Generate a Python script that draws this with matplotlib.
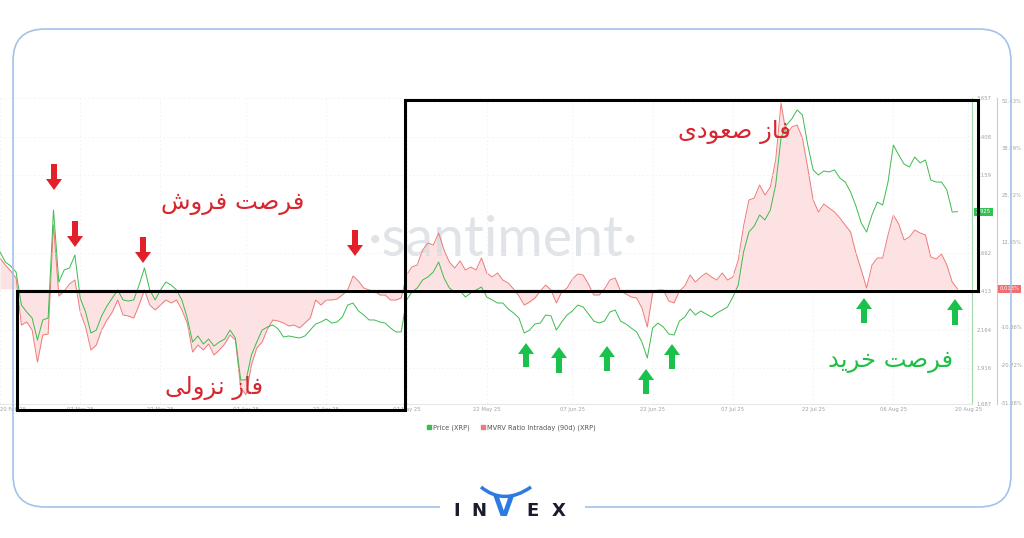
import matplotlib
matplotlib.use('Agg')
import matplotlib.pyplot as plt
import matplotlib.dates as mdates
import matplotlib.transforms as mtransforms
from matplotlib.patches import FancyBboxPatch, Rectangle, FancyArrow, PathPatch
from matplotlib.path import Path
from matplotlib.lines import Line2D
from matplotlib.ticker import FormatStrFormatter
import pandas as pd

# daily XRP price (USD), 20 Feb 2025 -> 18 Aug 2025
price = [2.666, 2.601, 2.575, 2.537, 2.324, 2.279, 2.241, 2.099, 2.228, 2.241,
         2.936, 2.472, 2.550, 2.563, 2.646, 2.369, 2.279, 2.144, 2.163, 2.254,
         2.318, 2.369, 2.421, 2.357, 2.350, 2.357, 2.453, 2.563, 2.421, 2.357,
         2.421, 2.472, 2.453, 2.421, 2.357, 2.241, 2.086, 2.125, 2.073, 2.105,
         2.060, 2.086, 2.105, 2.163, 2.112, 1.842, 1.842, 2.002, 2.086, 2.163,
         2.183, 2.196, 2.170, 2.118, 2.125, 2.118, 2.112, 2.125, 2.163, 2.202,
         2.215, 2.234, 2.208, 2.215, 2.247, 2.324, 2.337, 2.286, 2.260, 2.228,
         2.228, 2.215, 2.208, 2.176, 2.151, 2.151, 2.357, 2.408, 2.434, 2.485,
         2.505, 2.537, 2.601, 2.498, 2.434, 2.408, 2.415, 2.376, 2.402, 2.421,
         2.440, 2.376, 2.357, 2.337, 2.337, 2.299, 2.273, 2.241, 2.144, 2.163,
         2.202, 2.208, 2.260, 2.254, 2.163, 2.215, 2.260, 2.286, 2.324, 2.312,
         2.266, 2.221, 2.208, 2.221, 2.279, 2.292, 2.221, 2.202, 2.176, 2.151,
         2.086, 1.983, 2.176, 2.208, 2.183, 2.138, 2.131, 2.221, 2.247, 2.299,
         2.260, 2.286, 2.266, 2.247, 2.273, 2.292, 2.312, 2.376, 2.453, 2.666,
         2.794, 2.833, 2.904, 2.872, 2.936, 3.097, 3.400, 3.483, 3.522, 3.580,
         3.548, 3.354, 3.194, 3.161, 3.187, 3.181, 3.194, 3.142, 3.116, 3.052,
         2.962, 2.852, 2.794, 2.904, 2.987, 2.968, 3.116, 3.354, 3.290, 3.232,
         3.213, 3.277, 3.239, 3.258, 3.129, 3.116, 3.116, 3.065, 2.923, 2.925]

# MVRV ratio intraday (90d), percent
mvrv = [8.48, 6.56, 4.92, 3.01, -9.85, -9.03, -11.21, -19.97, -12.58, -12.31,
        17.50, -1.91, -0.55, 1.37, 2.46, -6.29, -10.39, -16.68, -15.32, -11.21,
        -8.48, -6.29, -3.01, -7.11, -7.38, -7.93, -4.38, -0.27, -4.38, -5.74,
        -4.38, -3.01, -3.83, -3.01, -5.74, -9.30, -17.23, -15.32, -16.68, -15.04,
        -18.05, -16.68, -15.04, -12.58, -13.95, -27.08, -28.99, -20.79, -16.14, -14.50,
        -10.94, -8.48, -8.75, -9.30, -10.12, -9.85, -10.67, -9.30, -7.93, -3.01,
        -4.38, -3.01, -3.01, -2.74, -1.64, -0.27, 3.56, 2.19, 0.27, -0.27,
        -0.55, -1.64, -1.64, -3.01, -3.01, -2.46, 3.83, 6.02, 6.56, 10.67,
        12.58, 12.03, 15.32, 10.67, 7.38, 5.74, 7.66, 5.20, 6.02, 5.20,
        8.48, 4.38, 3.28, 4.38, 2.46, 1.64, 0.00, -1.91, -4.38, -3.56,
        -2.46, -0.55, 1.09, -0.27, -3.83, -0.82, 0.27, 2.74, 4.10, 3.83,
        1.37, -1.64, -1.64, 0.00, 2.46, 3.01, -0.55, -1.37, -2.19, -2.46,
        -5.20, -10.39, -1.09, -0.27, -0.27, -3.28, -3.83, -0.55, 0.82, 3.83,
        1.91, 3.28, 4.38, 3.28, 2.46, 4.38, 2.46, 3.28, 7.93, 17.23,
        24.34, 24.89, 28.44, 25.71, 27.90, 35.28, 50.87, 42.12, 44.31, 44.85,
        41.30, 33.09, 24.34, 21.06, 23.25, 22.15, 21.06, 19.42, 17.50, 15.59,
        9.85, 5.20, 0.27, 6.56, 8.48, 8.48, 14.77, 20.24, 17.78, 13.40,
        14.22, 16.14, 15.32, 14.77, 8.75, 8.21, 9.57, 6.56, 1.91, 0.013]

days = pd.date_range('2025-02-20', periods=len(price), freq='D')

price_ticks = [3.657, 3.408, 3.159, 2.662, 2.413, 2.164, 1.916, 1.687]
mvrv_ticks = [51.43, 38.59, 25.72, 12.85, -10.36, -20.72, -31.08]
date_ticks = pd.to_datetime(['2025-02-20', '2025-03-07', '2025-03-22', '2025-04-07',
                             '2025-04-22', '2025-05-07', '2025-05-22', '2025-06-07',
                             '2025-06-22', '2025-07-07', '2025-07-22', '2025-08-06',
                             '2025-08-20'])

sell_text = 'فرصت فروش'
bear_text = 'فاز نزولی'
bull_text = 'فاز صعودی'
buy_text = 'فرصت خرید'

# minimal arabic-script shaping (isolated, final, initial, medial)
FORMS = {
    'ا': (0xFE8D, 0xFE8E, None, None),
    'ت': (0xFE95, 0xFE96, 0xFE97, 0xFE98),
    'خ': (0xFEA5, 0xFEA6, 0xFEA7, 0xFEA8),
    'د': (0xFEA9, 0xFEAA, None, None),
    'ر': (0xFEAD, 0xFEAE, None, None),
    'ز': (0xFEAF, 0xFEB0, None, None),
    'ش': (0xFEB5, 0xFEB6, 0xFEB7, 0xFEB8),
    'ص': (0xFEB9, 0xFEBA, 0xFEBB, 0xFEBC),
    'ع': (0xFEC9, 0xFECA, 0xFECB, 0xFECC),
    'ف': (0xFED1, 0xFED2, 0xFED3, 0xFED4),
    'ل': (0xFEDD, 0xFEDE, 0xFEDF, 0xFEE0),
    'ن': (0xFEE5, 0xFEE6, 0xFEE7, 0xFEE8),
    'و': (0xFEED, 0xFEEE, None, None),
    'ی': (0xFEEF, 0xFEF0, 0xFEF3, 0xFEF4),
}


def shape(s):
    out = []
    for k, c in enumerate(s):
        if c not in FORMS:
            out.append(c)
            continue
        f = FORMS[c]
        prev = s[k - 1] if k > 0 else ''
        nxt = s[k + 1] if k + 1 < len(s) else ''
        jp = prev in FORMS and FORMS[prev][2] is not None
        jn = nxt in FORMS and f[2] is not None
        idx = 3 if (jp and jn) else 1 if jp else 2 if jn else 0
        out.append(chr(f[idx]))
    return ''.join(reversed(out))


W, H = 1024, 538
fig = plt.figure(figsize=(W / 100, H / 100), dpi=100)
fig.patch.set_facecolor('white')
# pixel coords, origin top-left
px = mtransforms.Affine2D().scale(1 / W, -1 / H).translate(0, 1) + fig.transFigure

GREEN = '#3dbb4e'
RED = '#ee7b7b'

ax = fig.add_axes([0, (H - 404) / H, 972 / W, 306 / H])
ax2 = ax.twinx()
ax.set_zorder(ax2.get_zorder() + 1)
ax.patch.set_visible(False)

ax2.fill_between(days, mvrv, 0, color='#fcd6d6', alpha=0.7, lw=0, zorder=1)
ax2.text(503, 241, '·santiment·', transform=px, ha='center', va='center',
         fontsize=40, color='#d9dce1', alpha=0.8, family='Lato', zorder=1.5)
ax2.plot(days, mvrv, color=RED, lw=0.7, zorder=2)
ax.plot(days, price, color=GREEN, lw=0.7)

start = days[0]
ax.set_xlim(start, start + pd.Timedelta(days=181.7))
ax.set_ylim(1.687, 3.657)
ax2.set_ylim(-31.45, 52.24)

ax.grid(True, color='#f0f0f0', lw=0.5, ls=(0, (3, 3)))
ax.set_axisbelow(True)

ax.set_xticks(date_ticks)
ax.xaxis.set_major_formatter(mdates.DateFormatter('%d %b %y'))
ax.tick_params(axis='x', length=0, pad=2, labelsize=3.8, labelcolor='#a0a0a0')
ax.get_xticklabels()[0].set_ha('left')

ax.yaxis.tick_right()
ax.set_yticks(price_ticks)
ax.yaxis.set_major_formatter(FormatStrFormatter('%.3f'))
ax.tick_params(axis='y', length=0, pad=3, labelsize=3.8, labelcolor='#a0a0a0')

ax2.set_yticks(mvrv_ticks)
ax2.set_yticklabels([f'{v:.2f}%' for v in mvrv_ticks])
ax2.tick_params(axis='y', length=0, pad=3, labelsize=3.8, labelcolor='#a0a0a0')

for s in ['top', 'left']:
    ax.spines[s].set_visible(False)
    ax2.spines[s].set_visible(False)
ax2.spines['bottom'].set_visible(False)
ax.spines['bottom'].set_color('#e8e8e8')
ax.spines['right'].set_color('#9fd8a6')
ax.spines['right'].set_linewidth(0.8)
ax2.spines['right'].set_position(('outward', 18))
ax2.spines['right'].set_color('#f3b9b9')
ax2.spines['right'].set_linewidth(0.8)

ax.annotate(f'{price[-1]:.3f}', xy=(1, price[-1]), xycoords=('axes fraction', 'data'),
            xytext=(4, 0), textcoords='offset pixels', ha='left', va='center',
            fontsize=3.8, color='white', annotation_clip=False,
            bbox=dict(boxstyle='square,pad=0.3', fc='#33c152', ec='none'))
ax2.annotate(f'{mvrv[-1]:.3f}%', xy=(1, mvrv[-1]), xycoords=('axes fraction', 'data'),
             xytext=(28, 0), textcoords='offset pixels', ha='left', va='center',
             fontsize=3.8, color='white', annotation_clip=False,
             bbox=dict(boxstyle='square,pad=0.3', fc='#f26d6d', ec='none'))

fig.legend(handles=[Line2D([], [], marker='s', ls='', color=GREEN, markersize=3, label='Price (XRP)'),
                    Line2D([], [], marker='s', ls='', color=RED, markersize=3,
                           label='MVRV Ratio Intraday (90d) (XRP)')],
           loc='center', bbox_to_anchor=(511 / W, 1 - 428 / H), ncol=2, frameon=False,
           fontsize=4.8, handletextpad=0.2, columnspacing=1.5, handlelength=0.8,
           labelcolor='#555555')

# rounded frame around the screenshot
fig.add_artist(FancyBboxPatch((13, 29), 998, 478, boxstyle='round,pad=0,rounding_size=32',
                              transform=px, fc='none', ec='#a3c2ea', lw=1.2, zorder=10))
fig.add_artist(Rectangle((440, 498), 145, 20, transform=px, fc='white', ec='none', zorder=11))

# phase boxes
fig.add_artist(Rectangle((17, 291), 388, 119, transform=px, fill=False, ec='black',
                         lw=2.2, zorder=10))
fig.add_artist(Rectangle((405, 100), 573, 191, transform=px, fill=False, ec='black',
                         lw=2.2, zorder=10))

# annotation arrows: (x, tail y, tip y)
sell_arrows = [(54, 164, 190), (75, 221, 247), (143, 237, 263), (355, 230, 256)]
buy_arrows = [(526, 367, 343), (559, 373, 347), (607, 371, 346), (646, 394, 369),
              (672, 369, 344), (864, 323, 298), (955, 325, 299)]
for x, y0, y1 in sell_arrows:
    fig.add_artist(FancyArrow(x, y0, 0, y1 - y0, width=6, head_width=16, head_length=11,
                              length_includes_head=True, transform=px, color='#e3202a',
                              lw=0, zorder=12))
for x, y0, y1 in buy_arrows:
    fig.add_artist(FancyArrow(x, y0, 0, y1 - y0, width=6, head_width=16, head_length=11,
                              length_includes_head=True, transform=px, color='#19c24a',
                              lw=0, zorder=12))

fa = dict(transform=px, ha='center', va='center', family='DejaVu Sans', fontsize=17.5,
          zorder=12)
fig.text(233, 203, shape(sell_text), color='#d9252f', **fa)
fig.text(214, 388, shape(bear_text), color='#d9252f', **fa)
fig.text(734, 132, shape(bull_text), color='#d9252f', **fa)
fig.text(891, 361, shape(buy_text), color='#1fbf45', **fa)

# INVEX logo
for ch, x in [('I', 457), ('N', 479), ('E', 533), ('X', 559)]:
    fig.text(x, 511, ch, transform=px, ha='center', va='center', fontsize=13,
             weight='bold', color='#1a1c2e', zorder=12)
fig.text(504, 508, 'V', transform=px, ha='center', va='center', fontsize=20,
         weight='bold', color='#2d7be0', zorder=12)
horns = Path([(481, 487), (504, 506), (531, 487)], [Path.MOVETO, Path.CURVE3, Path.CURVE3])
fig.add_artist(PathPatch(horns, transform=px, fc='none', ec='#2d7be0', lw=2.5, zorder=12))

fig.savefig('out.png', dpi=100)
